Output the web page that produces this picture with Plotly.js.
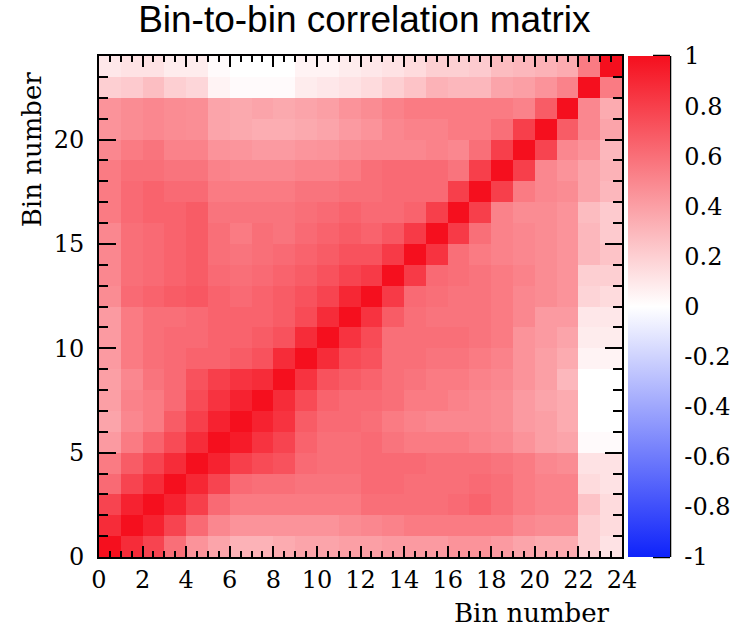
<!DOCTYPE html>
<html>
<head>
<meta charset="utf-8">
<script src="https://cdn.plot.ly/plotly-3.0.1.min.js"></script>
<style>html,body{margin:0;padding:0;background:#fff}#chart{width:739px;height:632px}</style>
</head>
<body>
<div id="chart"></div>
<script>
// Bin edges (0..24)
const binEdges = [0,1,2,3,4,5,6,7,8,9,10,11,12,13,14,15,16,17,18,19,20,21,22,23,24];

// Correlation values, one row per y-bin (row 0 = bottom bin)
const row00 = [1.00,0.88,0.78,0.60,0.45,0.38,0.32,0.32,0.35,0.38,0.38,0.40,0.40,0.42,0.42,0.42,0.45,0.45,0.42,0.38,0.35,0.35,0.20,0.12];
const row01 = [0.88,1.00,0.92,0.78,0.62,0.50,0.45,0.45,0.45,0.45,0.45,0.48,0.50,0.52,0.55,0.55,0.55,0.55,0.55,0.50,0.48,0.48,0.20,0.15];
const row02 = [0.78,0.92,1.00,0.92,0.80,0.62,0.55,0.55,0.55,0.55,0.55,0.55,0.60,0.60,0.60,0.60,0.62,0.65,0.60,0.55,0.52,0.52,0.25,0.15];
const row03 = [0.62,0.78,0.88,1.00,0.90,0.78,0.62,0.60,0.60,0.58,0.58,0.58,0.62,0.62,0.60,0.60,0.60,0.62,0.60,0.55,0.52,0.52,0.15,0.12];
const row04 = [0.55,0.68,0.78,0.88,1.00,0.92,0.80,0.75,0.72,0.62,0.60,0.60,0.62,0.62,0.62,0.60,0.60,0.60,0.58,0.55,0.50,0.48,0.12,0.12];
const row05 = [0.42,0.55,0.65,0.75,0.88,1.00,0.95,0.85,0.78,0.65,0.60,0.60,0.62,0.58,0.55,0.55,0.55,0.52,0.50,0.45,0.40,0.38,0.02,0.02];
const row06 = [0.38,0.50,0.55,0.68,0.80,0.92,1.00,0.92,0.85,0.68,0.62,0.62,0.60,0.55,0.52,0.50,0.50,0.50,0.48,0.42,0.40,0.35,0.00,0.00];
const row07 = [0.40,0.52,0.55,0.62,0.75,0.85,0.92,1.00,0.88,0.75,0.65,0.62,0.62,0.60,0.55,0.55,0.52,0.50,0.48,0.42,0.38,0.35,0.00,0.00];
const row08 = [0.40,0.50,0.58,0.62,0.72,0.80,0.85,0.88,1.00,0.85,0.72,0.68,0.65,0.60,0.58,0.55,0.55,0.52,0.50,0.45,0.40,0.30,0.00,0.00];
const row09 = [0.42,0.55,0.60,0.62,0.65,0.65,0.68,0.72,0.88,1.00,0.88,0.75,0.72,0.60,0.60,0.58,0.58,0.55,0.52,0.45,0.40,0.35,0.05,0.05];
const row10 = [0.42,0.55,0.60,0.62,0.62,0.65,0.65,0.68,0.72,0.88,1.00,0.85,0.75,0.60,0.60,0.60,0.60,0.58,0.55,0.45,0.42,0.38,0.08,0.08];
const row11 = [0.42,0.55,0.60,0.60,0.62,0.65,0.65,0.65,0.68,0.75,0.88,1.00,0.85,0.68,0.60,0.58,0.58,0.58,0.55,0.50,0.42,0.42,0.10,0.10];
const row12 = [0.48,0.62,0.65,0.68,0.70,0.65,0.62,0.65,0.68,0.72,0.78,0.90,1.00,0.82,0.62,0.60,0.58,0.58,0.55,0.50,0.48,0.45,0.18,0.15];
const row13 = [0.50,0.60,0.62,0.65,0.68,0.62,0.60,0.62,0.65,0.68,0.72,0.78,0.82,1.00,0.82,0.62,0.60,0.58,0.55,0.52,0.48,0.45,0.20,0.20];
const row14 = [0.50,0.60,0.62,0.65,0.68,0.60,0.58,0.60,0.62,0.65,0.68,0.72,0.72,0.82,1.00,0.85,0.60,0.55,0.52,0.50,0.48,0.45,0.30,0.25];
const row15 = [0.50,0.60,0.62,0.65,0.68,0.60,0.55,0.60,0.58,0.62,0.65,0.68,0.65,0.70,0.82,1.00,0.82,0.60,0.52,0.50,0.48,0.45,0.30,0.22];
const row16 = [0.55,0.62,0.65,0.65,0.68,0.58,0.58,0.58,0.58,0.60,0.62,0.65,0.62,0.62,0.65,0.80,1.00,0.80,0.52,0.48,0.48,0.45,0.28,0.22];
const row17 = [0.55,0.62,0.65,0.62,0.62,0.55,0.55,0.55,0.55,0.58,0.58,0.60,0.60,0.62,0.62,0.62,0.80,1.00,0.80,0.55,0.50,0.48,0.38,0.30];
const row18 = [0.55,0.60,0.60,0.58,0.58,0.52,0.50,0.50,0.50,0.52,0.52,0.55,0.60,0.62,0.62,0.62,0.58,0.80,1.00,0.80,0.50,0.45,0.38,0.32];
const row19 = [0.50,0.55,0.58,0.52,0.52,0.45,0.44,0.42,0.42,0.44,0.45,0.48,0.50,0.50,0.50,0.52,0.50,0.60,0.80,1.00,0.78,0.50,0.45,0.30];
const row20 = [0.45,0.48,0.50,0.48,0.47,0.38,0.36,0.34,0.34,0.36,0.38,0.42,0.45,0.50,0.52,0.52,0.55,0.55,0.60,0.80,1.00,0.68,0.50,0.38];
const row21 = [0.45,0.48,0.50,0.48,0.47,0.38,0.36,0.38,0.36,0.38,0.40,0.45,0.48,0.52,0.55,0.55,0.55,0.55,0.55,0.52,0.68,1.00,0.50,0.35];
const row22 = [0.20,0.22,0.27,0.20,0.17,0.05,0.02,0.02,0.02,0.08,0.10,0.12,0.15,0.20,0.25,0.32,0.30,0.30,0.38,0.40,0.45,0.52,1.00,0.55];
const row23 = [0.10,0.12,0.12,0.08,0.08,0.02,0.00,0.00,0.00,0.05,0.05,0.08,0.10,0.12,0.15,0.20,0.20,0.22,0.28,0.30,0.32,0.35,0.55,1.00];

const zRows = [row00,row01,row02,row03,row04,row05,row06,row07,row08,row09,row10,row11,
               row12,row13,row14,row15,row16,row17,row18,row19,row20,row21,row22,row23];

const xTickVals = [0,2,4,6,8,10,12,14,16,18,20,22,24];
const yTickVals = [0,5,10,15,20];
const cbTickVals = [-1,-0.8,-0.6,-0.4,-0.2,0,0.2,0.4,0.6,0.8,1];

const serif = "DejaVu Serif, serif";

// colorbar geometry (paper fractions of the 523px-wide plot area)
const cbLeft = 1.0115, cbRight = 1.0918, cbTickStart = 1.0593;

const trace = {
  type: 'heatmap',
  x: binEdges,
  y: binEdges,
  z: zRows,
  zmin: -1, zmax: 1,
  colorscale: [[0,'rgb(15,35,250)'],[0.5,'rgb(255,255,255)'],[1,'rgb(245,15,30)']],
  hoverinfo: 'x+y+z',
  colorbar: {
    x: cbLeft, xanchor: 'left', xpad: 0,
    y: 0.5, yanchor: 'middle', ypad: 0,
    len: 1, lenmode: 'fraction',
    thickness: 42, thicknessmode: 'pixels',
    outlinewidth: 0,
    tickmode: 'array', tickvals: cbTickVals,
    ticktext: cbTickVals.map(v => String(v)),
    ticks: 'outside', ticklen: 10, tickwidth: 1, tickcolor: 'rgba(0,0,0,0)',
    tickfont: {family: serif, size: 24, color: '#000'}
  }
};

const cbShapes = [
  {type: 'line', xref: 'paper', yref: 'paper', x0: cbRight, x1: cbRight, y0: 0, y1: 1,
   line: {color: '#000', width: 2.5}}
].concat(cbTickVals.map(v => ({
  type: 'line', xref: 'paper', yref: 'paper', x0: cbTickStart, x1: cbRight,
  y0: (v + 1) / 2, y1: (v + 1) / 2, line: {color: '#000', width: 2.5}
})));

const layout = {
  width: 739, height: 632,
  margin: {l: 99, r: 117, t: 56, b: 75, autoexpand: false},
  paper_bgcolor: '#fff', plot_bgcolor: '#fff',
  title: {text: 'Bin-to-bin correlation matrix', font: {family: 'Liberation Sans, Arial, sans-serif', size: 37, color: '#000'},
          x: 0.493, xanchor: 'center', y: 0.99, yanchor: 'top'},
  xaxis: {
    range: [0,24], tickmode: 'array', tickvals: xTickVals,
    ticks: 'inside', ticklen: 11, tickwidth: 2, tickcolor: '#000',
    minor: {dtick: 0.5, ticks: 'inside', ticklen: 6, tickwidth: 2, tickcolor: '#000'},
    showline: true, linewidth: 2, linecolor: '#000', mirror: 'ticks',
    showgrid: false, zeroline: false,
    tickfont: {family: serif, size: 24, color: '#000'}
  },
  yaxis: {
    range: [0,24], tickmode: 'array', tickvals: yTickVals,
    ticks: 'inside', ticklen: 17, tickwidth: 2, tickcolor: '#000',
    minor: {dtick: 1, ticks: 'inside', ticklen: 9, tickwidth: 2, tickcolor: '#000'},
    showline: true, linewidth: 2, linecolor: '#000', mirror: 'ticks',
    showgrid: false, zeroline: false, ticklabelstandoff: 8,
    tickfont: {family: serif, size: 24, color: '#000'}
  },
  shapes: cbShapes,
  annotations: [
    {text: 'Bin number', xref: 'paper', yref: 'paper', x: 0.981, y: -0.112,
     xanchor: 'right', yanchor: 'middle', showarrow: false,
     font: {family: serif, size: 26, color: '#000'}},
    {text: 'Bin number', xref: 'paper', yref: 'paper', x: -0.128, y: 0.814,
     xanchor: 'center', yanchor: 'middle', textangle: -90, showarrow: false,
     font: {family: serif, size: 26, color: '#000'}}
  ]
};

Plotly.newPlot('chart', [trace], layout, {displayModeBar: false, staticPlot: true});
</script>
</body>
</html>
